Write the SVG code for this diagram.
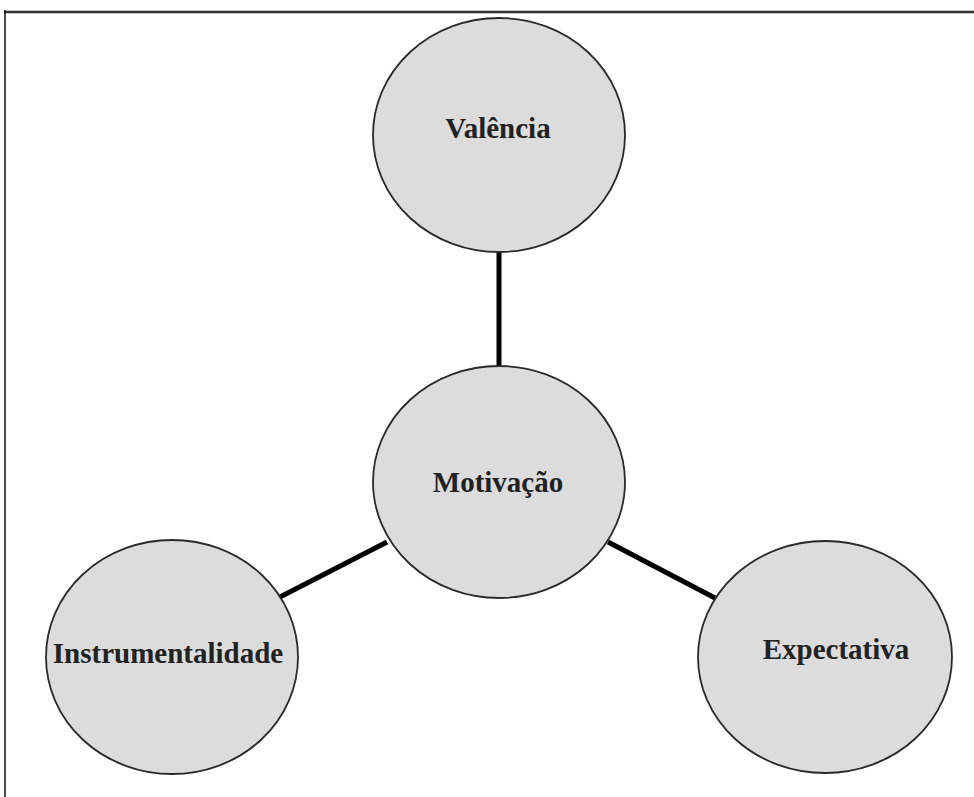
<svg xmlns="http://www.w3.org/2000/svg" width="974" height="797" viewBox="0 0 974 797">
<style>
.node ellipse{fill:#dcdcdc;stroke:#2a2a2a;stroke-width:1.8}
.node text{font-family:"Liberation Serif","Times New Roman",serif;font-weight:bold;font-size:29px;fill:#222;text-anchor:middle}
.conn line{stroke:#000;stroke-width:5}
</style>
<rect width="974" height="797" fill="#fff"/>
<g id="frame">
<line x1="4" y1="12" x2="974" y2="12" stroke="#333" stroke-width="2.5"/>
<line x1="5" y1="10" x2="5" y2="797" stroke="#111" stroke-width="1.5"/>
</g>
<g id="connectors" class="conn">
<line x1="499" y1="252" x2="499" y2="367"/>
<line x1="280" y1="597" x2="387" y2="542"/>
<line x1="608" y1="542" x2="715" y2="598"/>
</g>
<g id="valencia" class="node">
<ellipse cx="499" cy="135" rx="126" ry="117"/>
<text x="498" y="138">Valência</text>
</g>
<g id="motivacao" class="node">
<ellipse cx="499" cy="482" rx="126" ry="116"/>
<text x="498" y="492">Motivação</text>
</g>
<g id="instrumentalidade" class="node">
<ellipse cx="172" cy="657" rx="126" ry="117"/>
<text x="168" y="663">Instrumentalidade</text>
</g>
<g id="expectativa" class="node">
<ellipse cx="825" cy="657" rx="127" ry="116"/>
<text x="836" y="659">Expectativa</text>
</g>
</svg>
